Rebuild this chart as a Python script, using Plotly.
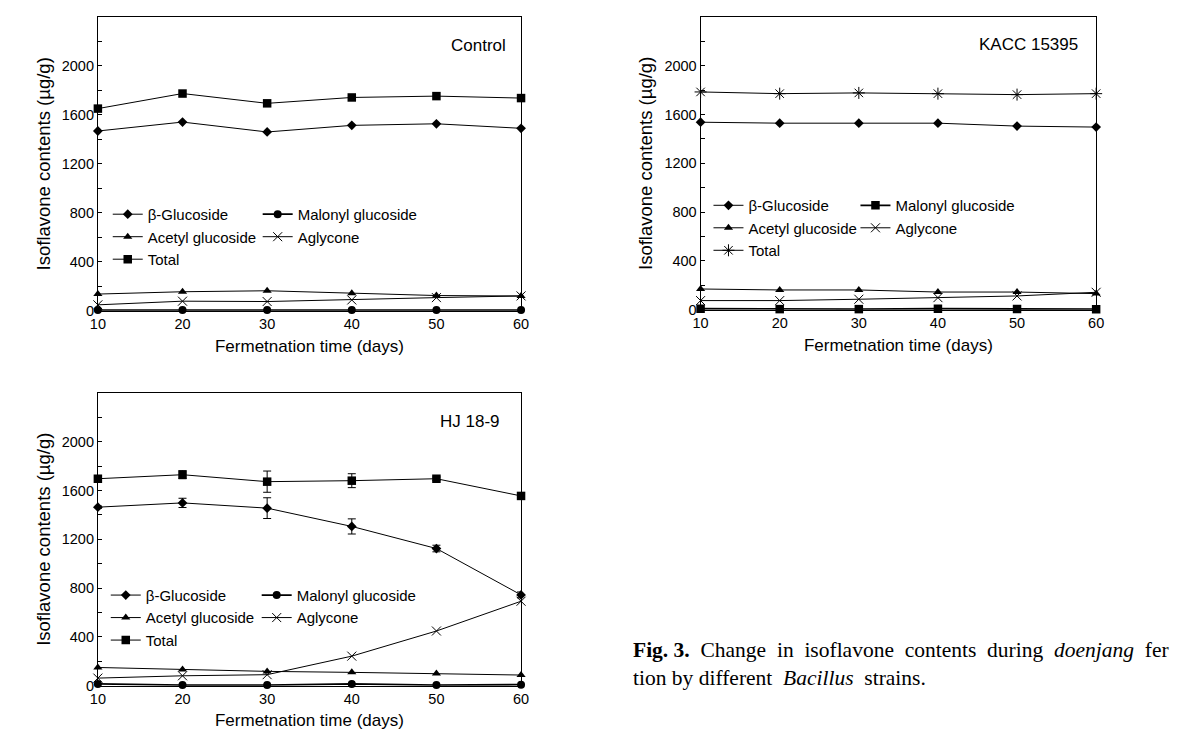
import plotly.graph_objects as go

W, H = 1180, 747

days = [10, 20, 30, 40, 50, 60]

# Control
ctrl_beta = [1468, 1541, 1460, 1514, 1527, 1490]
ctrl_malonyl = [5, 5, 5, 5, 5, 5]
ctrl_acetyl = [136, 155, 163, 142, 124, 120]
ctrl_aglycone = [48, 78, 75, 88, 107, 121]
ctrl_total = [1651, 1774, 1694, 1742, 1753, 1737]

# KACC 15395
kacc_beta = [1537, 1529, 1529, 1529, 1505, 1497]
kacc_malonyl = [8, 5, 5, 8, 6, 4]
kacc_acetyl = [170, 162, 162, 145, 145, 132]
kacc_aglycone = [75, 75, 86, 99, 113, 143]
kacc_total = [1785, 1771, 1777, 1771, 1763, 1771]

# HJ 18-9
hj_beta = [1463, 1498, 1455, 1305, 1124, 744]
hj_beta_err = [10, 38, 85, 62, 27, 24]
hj_malonyl = [14, 5, 5, 14, 5, 8]
hj_acetyl = [149, 133, 117, 109, 100, 87]
hj_aglycone = [62, 81, 90, 242, 448, 692]
hj_total = [1696, 1729, 1672, 1680, 1696, 1555]
hj_total_err = [10, 33, 87, 57, 14, 8]

yticks = [0, 400, 800, 1200, 1600, 2000]
xticks = [10, 20, 30, 40, 50, 60]

FONT = "Arial"
BLACK = "#000000"
NB = "\u00a0"

fig = go.Figure()

def px_x(p):
    return p / W

def px_y(p):
    return 1 - p / H

panels = [
    dict(xa="x", ya="y", xd=(83, 512), yd=(9, 306), label="Control", lx=499, ly=38,
         leg=(("legend", 93, 192), ("legend2", 245, 192)),
         malonyl_sym="circle", total_sym="square",
         data=(ctrl_beta, ctrl_malonyl, ctrl_acetyl, ctrl_aglycone, ctrl_total), err=None),
    dict(xa="x2", ya="y2", xd=(694, 1095), yd=(9, 305), label="KACC 15395", lx=1079, ly=37,
         leg=(("legend3", 702, 183), ("legend4", 851, 183)),
         malonyl_sym="square", total_sym="asterisk-open",
         data=(kacc_beta, kacc_malonyl, kacc_acetyl, kacc_aglycone, kacc_total), err=None),
    dict(xa="x3", ya="y3", xd=(83, 512), yd=(389, 685), label="HJ 18-9", lx=493, ly=418,
         leg=(("legend5", 91, 577), ("legend6", 244, 577)),
         malonyl_sym="circle", total_sym="square",
         data=(hj_beta, hj_malonyl, hj_acetyl, hj_aglycone, hj_total),
         err=(hj_beta_err, hj_total_err)),
]

layout_axes = {}
legends = {}
annotations = []

for i, p in enumerate(panels):
    beta, malonyl, acetyl, aglycone, total = p["data"]
    l1, l2 = p["leg"][0][0], p["leg"][1][0]
    line = dict(color=BLACK, width=1)

    def err_of(k):
        if p["err"] is None:
            return None
        return dict(type="data", array=p["err"][k], visible=True, color=BLACK,
                    thickness=1, width=4)

    fig.add_trace(go.Scatter(x=days, y=beta, name="β-Glucoside", mode="lines+markers",
                             line=line, marker=dict(symbol="diamond", size=7.5, color=BLACK),
                             error_y=err_of(0), xaxis=p["xa"], yaxis=p["ya"], legend=l1,
                             cliponaxis=False))
    fig.add_trace(go.Scatter(x=days, y=acetyl, name="Acetyl glucoside", mode="lines+markers",
                             line=line, marker=dict(symbol="triangle-up", size=8, color=BLACK),
                             xaxis=p["xa"], yaxis=p["ya"], legend=l1, cliponaxis=False))
    if p["total_sym"] == "asterisk-open":
        tm = dict(symbol="asterisk-open", size=10, color=BLACK, line=dict(color=BLACK, width=1))
    else:
        tm = dict(symbol="square", size=8.5, color=BLACK)
    fig.add_trace(go.Scatter(x=days, y=total, name="Total", mode="lines+markers",
                             line=line, marker=tm, error_y=err_of(1),
                             xaxis=p["xa"], yaxis=p["ya"], legend=l1, cliponaxis=False))
    msize = 8.5 if p["malonyl_sym"] == "square" else 8
    fig.add_trace(go.Scatter(x=days, y=malonyl, name="Malonyl glucoside", mode="lines+markers",
                             line=dict(color=BLACK, width=1.8),
                             marker=dict(symbol=p["malonyl_sym"], size=msize, color=BLACK),
                             xaxis=p["xa"], yaxis=p["ya"], legend=l2, cliponaxis=False))
    fig.add_trace(go.Scatter(x=days, y=aglycone, name="Aglycone", mode="lines+markers",
                             line=line,
                             marker=dict(symbol="x-thin-open", size=9, color=BLACK,
                                         line=dict(color=BLACK, width=1)),
                             xaxis=p["xa"], yaxis=p["ya"], legend=l2, cliponaxis=False))

    suffix = "" if i == 0 else str(i + 1)
    layout_axes["xaxis" + suffix] = dict(
        domain=[px_x(p["xd"][0]), px_x(p["xd"][1])],
        anchor=p["ya"], range=[10, 60], tickmode="array", tickvals=xticks,
        ticks="", showline=True, linecolor=BLACK, linewidth=1, mirror=True,
        showgrid=False, zeroline=False,
        tickfont=dict(family=FONT, size=14.5, color=BLACK),
        title=dict(text="Fermetnation time (days)", font=dict(family=FONT, size=17, color=BLACK),
                   standoff=8),
    )
    layout_axes["yaxis" + suffix] = dict(
        domain=[px_y(p["yd"][1]), px_y(p["yd"][0])],
        anchor=p["xa"], range=[0, 2400], tickmode="array", tickvals=yticks,
        ticks="inside", ticklen=4, tickcolor=BLACK, tickwidth=1,
        minor=dict(tickmode="linear", tick0=0, dtick=200, ticks="inside", ticklen=4,
                   tickcolor=BLACK, tickwidth=1, showgrid=False),
        showline=True, linecolor=BLACK, linewidth=1, mirror=True,
        showgrid=False, zeroline=False,
        tickfont=dict(family=FONT, size=14.5, color=BLACK),
        title=dict(text="Isoflavone contents (µg/g)", font=dict(family=FONT, size=18.5, color=BLACK),
                   standoff=6),
    )
    for name, lx, ly in p["leg"]:
        legends[name] = dict(x=px_x(lx), y=px_y(ly), xanchor="left", yanchor="top",
                             bgcolor="rgba(0,0,0,0)", borderwidth=0,
                             font=dict(family=FONT, size=15, color=BLACK),
                             traceorder="normal", tracegroupgap=0, itemwidth=30)
    annotations.append(dict(text=p["label"], x=px_x(p["lx"]), y=px_y(p["ly"]),
                            xref="paper", yref="paper", xanchor="right", yanchor="middle",
                            showarrow=False, font=dict(family=FONT, size=17, color=BLACK)))

sp = " " + NB
line1 = ("<b>Fig. 3.</b>" + sp + sp.join(["Change", "in", "isoflavone", "contents", "during",
                                          "<i>doenjang</i>", "fer"]))
line2 = "tion by different" + NB + " <i>Bacillus</i>" + NB + " strains."
annotations.append(dict(
    text=line1 + "<br>" + line2,
    x=px_x(623), y=px_y(663), xref="paper", yref="paper", xanchor="left", yanchor="middle",
    align="left", showarrow=False,
    font=dict(family="Liberation Serif, Times New Roman, serif", size=21.5, color=BLACK)))

fig.update_layout(
    width=W, height=H, margin=dict(l=0, r=0, t=0, b=0),
    paper_bgcolor="white", plot_bgcolor="white",
    showlegend=True, annotations=annotations,
    **layout_axes, **legends,
)

fig.write_html("out.html")
